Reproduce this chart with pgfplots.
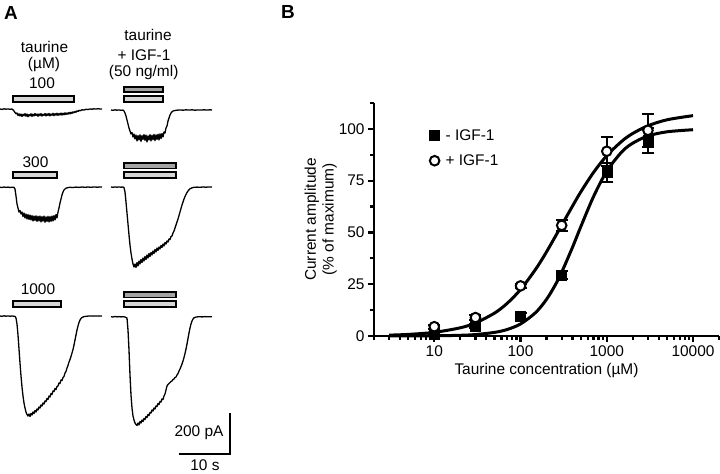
\documentclass[border=0pt]{standalone}
\usepackage{pgfplots}
\pgfplotsset{compat=1.18}
\usepackage{fontspec}
\setmainfont{Liberation Sans}
\definecolor{barlight}{HTML}{D6D6D6}
\definecolor{bardark}{HTML}{A4A4A4}
\begin{document}
\begin{tikzpicture}[font=\fontsize{15.5}{18}\selectfont]
\path[use as bounding box] (0,0) rectangle (720bp,474bp);
% ---------------- Panel A (pixel coordinates) ----------------
\begin{axis}[
  at={(0,0)}, anchor=south west,
  scale only axis, width=720bp, height=474bp,
  xmin=0, xmax=720, ymin=0, ymax=474, y dir=reverse,
  hide axis, clip=false,
  trace/.style={black, line width=1.3bp, line join=round, mark=none},
  stim/.style={draw=black, line width=1.6bp, fill=barlight, mark=none},
  stimd/.style={draw=black, line width=1.6bp, fill=bardark, mark=none},
]
\node[font=\fontsize{19}{20}\selectfont\bfseries] at (axis cs:11,13) {A};
\node[font=\fontsize{19}{20}\selectfont\bfseries] at (axis cs:288,12) {B};
\node at (axis cs:44.5,47) {taurine};
\node at (axis cs:44,65) {(µM)};
\node at (axis cs:42,83) {100};
\node at (axis cs:148,35) {taurine};
\node at (axis cs:144,55) {+ IGF-1};
\node at (axis cs:143.7,73) {(50 ng/ml)};
\node at (axis cs:35.5,162) {300};
\node at (axis cs:38,289) {1000};
\node[anchor=east] at (axis cs:227,433) {200 pA};
\node[anchor=base, inner sep=0pt] at (axis cs:205,470.5) {10 s};
% stimulus bars
\addplot[stim] coordinates {(13,96)(74,96)(74,102)(13,102)} -- cycle;
\addplot[stimd] coordinates {(124,87)(163,87)(163,92)(124,92)} -- cycle;
\addplot[stim] coordinates {(124,96)(163,96)(163,102)(124,102)} -- cycle;
\addplot[stim] coordinates {(13,172)(57,172)(57,178)(13,178)} -- cycle;
\addplot[stimd] coordinates {(124,163)(176,163)(176,168.5)(124,168.5)} -- cycle;
\addplot[stim] coordinates {(124,172)(176,172)(176,178)(124,178)} -- cycle;
\addplot[stim] coordinates {(13,301)(61,301)(61,307)(13,307)} -- cycle;
\addplot[stimd] coordinates {(124,292)(176,292)(176,297.5)(124,297.5)} -- cycle;
\addplot[stim] coordinates {(124,301)(176,301)(176,307)(124,307)} -- cycle;
% scale bar
\addplot[black, line width=2.6bp, mark=none] coordinates {(179,454)(230,454)(230,413)};
% trace 1 left
\addplot[trace] coordinates {(0,109)(2,109.4)(4,108.8)(6,109.2)(8,108.9)(10,109.3)(12,109)(13,109.8)(14,111)(15,112.5)(16,113.8)(17,113)(18,115.5)(19,113.8)(20,116)(21,114)(22,116.5)(23,114.2)(24,115.8)(25,113.6)(26,116.2)(27,114)(28,116.8)(29,114.4)(30,115.9)(31,113.8)(32,116.4)(33,114.1)(34,116)(35,113.5)(36,115.6)(37,114)(38,116.3)(39,113.9)(40,115.7)(41,113.6)(42,116.1)(43,114.2)(44,115.4)(45,113.5)(46,116)(47,113.8)(48,115.5)(49,113.4)(50,115.9)(51,113.9)(52,115.3)(53,113.3)(54,115.7)(55,113.6)(56,115.2)(57,113.2)(58,115.4)(59,113.5)(60,115)(61,113)(62,115.1)(63,113.2)(64,114.8)(65,112.8)(66,114.6)(67,112.9)(68,114.2)(69,112.5)(70,113.9)(71,112.2)(72,113.4)(73,111.8)(74,112.8)(75,111.4)(76,112.2)(77,110.8)(78,111.5)(79,110.3)(80,110.8)(82,109.8)(84,110)(86,109.3)(88,109.5)(90,109)(92,109.2)(94,108.8)(96,109.1)(98,108.7)(100,109)(102,108.9)};
% trace 1 right
\addplot[trace] coordinates {(111,110)(113,110.3)(115,109.8)(117,110.2)(119,109.9)(121,110.3)(123,110.1)(124,111)(125,113)(126,116)(127,120)(128,124)(129,128)(130,131)(131,134)(132,132.5)(133,137)(134,134)(135,139)(136,135)(137,141)(138,135.5)(139,140)(140,134.8)(141,141.5)(142,135.5)(143,139.5)(144,134.5)(145,140.5)(146,135)(147,142)(148,135.8)(149,140)(150,134.6)(151,141)(152,135.2)(153,139.8)(154,134.4)(155,140.6)(156,134.8)(157,139.5)(158,134.2)(159,139.9)(160,133.8)(161,138.6)(162,133.5)(163,137)(164,132)(165,133)(166,128)(167,126)(168,121)(169,118)(170,115)(171,113)(172,111.8)(173,111)(175,110.5)(177,110.2)(180,109.9)(183,110.2)(186,109.8)(189,110.1)(192,109.8)(195,110.2)(198,109.9)(201,110.1)(204,109.8)(207,110.1)(210,109.8)(212,110)};
% trace 2 left
\addplot[trace] coordinates {(0,187.2)(2,187.5)(4,187)(6,187.4)(8,187.1)(10,187.5)(12,187.2)(14,187.4)(15,189)(16,196)(17,204)(18,208)(19,212)(20,210.5)(21,214)(22,212)(23,216.5)(24,213)(25,218)(26,214)(27,219)(28,214.5)(29,219.5)(30,215)(31,220)(32,215.5)(33,221)(34,216)(35,220.5)(36,215.8)(37,221.5)(38,216.2)(39,221)(40,216)(41,222)(42,216.5)(43,221.2)(44,216)(45,222.3)(46,216.8)(47,221.5)(48,216.3)(49,222)(50,216.5)(51,221.4)(52,216)(53,221)(54,215.5)(55,220)(56,214.5)(57,218)(58,212)(59,208)(60,203)(61,199)(62,195)(63,192)(64,190)(65,189)(66,188.2)(68,187.6)(70,187.3)(73,187.5)(76,187.1)(79,187.4)(82,187)(85,187.3)(88,187)(91,187.3)(94,186.9)(97,187.2)(100,187)(102,187.1)};
% trace 2 right
\addplot[trace] coordinates {(111,187)(113,187.3)(115,186.9)(117,187.2)(119,186.9)(121,187.2)(123,187)(124,187.6)(125,192)(126,202)(127,213)(128,224)(129,235)(130,245)(131,253)(132,259)(133,264)(134,267)(135,264)(136,267.5)(137,262.5)(138,266)(139,261)(140,264)(141,259.5)(142,262.5)(143,258)(144,261)(145,256.5)(146,259.5)(147,255)(148,258)(149,253.5)(150,256.5)(151,252.5)(152,255)(153,251)(154,253.5)(155,249.5)(156,252)(157,248)(158,250.5)(159,247)(160,249)(161,245.5)(162,247.5)(163,244)(164,246)(165,242.5)(166,244)(167,241)(168,242)(169,239)(170,239.5)(171,236.5)(172,236)(173,233)(174,231)(175,228)(176,225)(177,222)(178,219)(179,215.5)(180,212)(181,208.5)(182,205)(183,202)(184,199)(185,196.5)(186,194.5)(187,192.5)(188,191)(189,189.8)(190,188.8)(192,187.8)(194,187.3)(197,187.1)(200,187.3)(203,187)(206,187.2)(209,186.9)(212,187.1)};
% trace 3 left
\addplot[trace] coordinates {(0,316)(2,316.3)(4,315.8)(6,316.2)(8,315.9)(10,316.2)(12,316)(14,316.2)(15,316.4)(16,318)(17,324)(18,335)(19,349)(20,363)(21,376)(22,387)(23,396)(24,403)(25,408)(26,412)(27,414.5)(28,416)(29,414)(30,416.5)(31,413.5)(32,415)(33,412)(34,413.5)(35,410.5)(36,412)(37,409)(38,410)(39,407)(40,408)(41,405)(42,406)(43,403)(44,404)(45,401)(46,401.5)(47,398.5)(48,399.5)(49,396)(50,397)(51,393.5)(52,394.5)(53,391)(54,391.5)(55,388.5)(56,389.5)(57,386.5)(58,386)(59,383)(60,383.5)(61,380)(62,380.5)(63,377.5)(64,376.5)(65,373)(66,371.5)(67,368)(68,365.5)(69,362)(70,359.5)(71,356.5)(72,353)(73,349.5)(74,345)(75,340)(76,335)(77,330)(78,326)(79,322.5)(80,320)(81,318.5)(82,317.5)(84,316.6)(87,316.2)(90,315.9)(93,316.1)(96,315.9)(99,316.1)(102,316)};
% trace 3 right
\addplot[trace] coordinates {(111,316.7)(113,317)(115,316.5)(117,316.9)(119,316.6)(121,316.9)(123,316.7)(125,317)(126,317.5)(127,318)(128,330)(129,350)(130,375)(131,395)(132,408)(133,416)(134,420)(135,423)(136,424.5)(137,425.5)(138,423)(139,425)(140,421.5)(141,423)(142,420)(143,421.5)(144,418.5)(145,419.5)(146,416.5)(147,417.5)(148,414.5)(149,415.5)(150,412.5)(151,413)(152,410)(153,411)(154,408)(155,409)(156,406)(157,406.5)(158,403.5)(159,404.5)(160,401.5)(161,402)(162,399)(163,399.5)(164,396)(165,394)(166,390)(167,386)(168,384.5)(169,383.5)(170,382.5)(171,381.5)(172,381)(173,379.5)(174,379)(175,377.5)(176,377)(177,375)(178,373.5)(179,371)(180,369)(181,366.5)(182,364)(183,361)(184,357.5)(185,353.5)(186,349)(187,344)(188,338.5)(189,333)(190,328)(191,324)(192,321)(193,319)(194,317.8)(196,317)(199,316.7)(202,316.9)(205,316.6)(208,316.8)(212,316.7)};
\end{axis}
% ---------------- Panel B ----------------
\begin{axis}[
  at={(374bp,138bp)}, anchor=south west,
  scale only axis, width=345bp, height=233bp,
  xmode=log, log basis x=10, xmin=2, xmax=20000, ymin=0, ymax=112.5,
  axis x line*=bottom, axis y line*=left,
  axis line style={line width=2.6bp},
  tick style={line width=2.2bp, black},
  major tick length=6bp, minor tick length=4bp,
  tick align=outside,
  /pgf/number format/assume math mode=true,
  xtick={10,100,1000,10000}, xticklabels={10,100,1000,10000},
  minor xtick={2,3,4,5,6,7,8,9,20,30,40,50,60,70,80,90,200,300,400,500,600,700,800,900,2000,3000,4000,5000,6000,7000,8000,9000,20000},
  ytick={0,25,50,75,100}, yticklabels={0,25,50,75,100},
  minor ytick={12.5,37.5,62.5,87.5,112.5},
  xlabel={Taurine concentration (µM)},
  ylabel={Current amplitude\\(\% of maximum)},
  ylabel style={align=center}, ylabel shift=-5bp,
  legend style={at={(0.152,0.905)}, anchor=north west, draw=none, fill=none, row sep=9bp},
  legend cell align=left,
  legend image code/.code={\draw[#1] plot coordinates {(0bp,0bp)}; \path[draw=none, fill=none] (-5bp,-0.1bp) rectangle (9bp,0.1bp);},
  clip=false,
]
\addplot[black, line width=3bp, smooth, forget plot] coordinates {(3,0.01)(10,0.1)(20,0.34)(30,0.7)(50,1.74)(70,3.14)(100,5.81)(150,11.35)(200,17.68)(250,24.3)(300,30.8)(400,42.8)(500,52.8)(700,67.2)(1000,79.6)(1500,89.0)(2000,93.1)(3000,96.6)(5000,98.6)(10000,99.6)};
\addplot[black, line width=3bp, smooth, forget plot] coordinates {(3,0.42)(5,0.77)(10,1.76)(20,3.96)(30,6.29)(50,11.07)(70,15.77)(100,22.44)(150,32.3)(200,40.6)(300,53.5)(400,62.7)(500,69.6)(700,78.9)(1000,87.1)(1500,94.1)(2000,97.8)(3000,101.5)(5000,104.4)(10000,106.4)};
\addplot[black, only marks, mark=square*, mark size=5bp,
  error bars/.cd, y dir=both, y explicit,
  error bar style={line width=2bp, black},
  error mark options={rotate=90, mark size=6bp, line width=2bp, black}]
  coordinates {(10,1) +- (0,0) (30,4.8) +- (0,1) (100,9.7) +- (0,1.5) (300,29.5) +- (0,2) (1000,79) +- (0,4.5) (3000,94.5) +- (0,6)};
\addlegendentry{- IGF-1}
\addplot[black, only marks, mark=*, mark size=4.8bp, mark options={fill=white, draw=black, line width=2bp},
  error bars/.cd, y dir=both, y explicit,
  error bar style={line width=2bp, black},
  error mark options={rotate=90, mark size=6bp, line width=2bp, black}]
  coordinates {(10,4.5) +- (0,1) (30,8.9) +- (0,1) (100,24.2) +- (0,1) (300,53.4) +- (0,2.5) (1000,89.2) +- (0,7) (3000,99.3) +- (0,8)};
\addlegendentry{+ IGF-1}
\end{axis}
\end{tikzpicture}
\end{document}
